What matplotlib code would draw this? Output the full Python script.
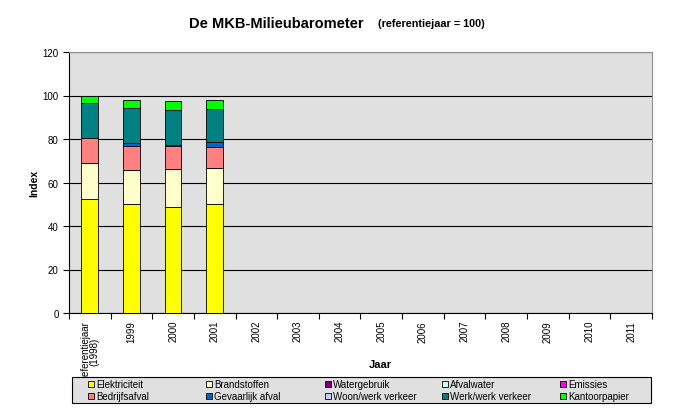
import numpy as np
import matplotlib
matplotlib.use("Agg")
import matplotlib.pyplot as plt
from matplotlib.patches import Rectangle

plt.rcParams['font.family'] = ['Liberation Sans', 'DejaVu Sans']

# categories on the x axis (only the first four have data)
jaren = ['Referentiejaar\n(1998)', '1999', '2000', '2001', '2002', '2003', '2004',
         '2005', '2006', '2007', '2008', '2009', '2010', '2011']

# series values (index, reference year = 100)
elektriciteit = [52.4, 50.0, 48.7, 50.0]
brandstoffen = [16.4, 15.7, 17.4, 16.5]
watergebruik = [0, 0, 0, 0]
afvalwater = [0, 0, 0, 0]
emissies = [0, 0, 0, 0]
bedrijfsafval = [11.5, 10.9, 10.8, 10.0]
gevaarlijk_afval = [0, 1.6, 0.2, 2.0]
woon_werk = [0, 0, 0, 0]
werk_werk = [16.1, 15.9, 16.3, 15.1]
kantoorpapier = [3.6, 3.8, 4.1, 4.2]

series = [
    ('Elektriciteit', elektriciteit, '#FFFF00'),
    ('Brandstoffen', brandstoffen, '#FFFFCC'),
    ('Watergebruik', watergebruik, '#800080'),
    ('Afvalwater', afvalwater, '#CCFFFF'),
    ('Emissies', emissies, '#FF00FF'),
    ('Bedrijfsafval', bedrijfsafval, '#FF8080'),
    ('Gevaarlijk afval', gevaarlijk_afval, '#0066CC'),
    ('Woon/werk verkeer', woon_werk, '#CCCCFF'),
    ('Werk/werk verkeer', werk_werk, '#008080'),
    ('Kantoorpapier', kantoorpapier, '#00FF00'),
]

W, H = 674, 410
fig = plt.figure(figsize=(W / 100, H / 100), dpi=100)
ax = fig.add_axes([69 / W, 1 - 314 / H, (652 - 69) / W, (314 - 53) / H])
ax.set_facecolor('#E0E0E0')

x = np.arange(len(elektriciteit))
bottom = np.zeros(len(x))
for naam, vals, kleur in series:
    vals = np.array(vals, dtype=float)
    ax.bar(x, vals, width=0.4, bottom=bottom, color=kleur,
           edgecolor='black', linewidth=0.6 if vals.sum() > 0 else 0, zorder=3)
    bottom += vals

ax.set_xlim(-0.5, len(jaren) - 0.5)
ax.set_ylim(0, 120)
ax.set_yticks(np.arange(0, 121, 20))
ax.yaxis.grid(True, color='black', linewidth=0.8, zorder=1)
ax.set_axisbelow(True)

ax.set_xticks(np.arange(len(jaren)))
ax.set_xticklabels(jaren, rotation=90, fontsize=7, linespacing=1.0)
ax.set_xticks(np.arange(len(jaren) + 1) - 0.5, minor=True)
ax.tick_params(axis='x', which='major', length=0, pad=5)
ax.tick_params(axis='x', which='minor', length=4, direction='out', width=0.8)
ax.tick_params(axis='y', length=4, direction='out', labelsize=7, width=0.8)

for s in ['top', 'right']:
    ax.spines[s].set_color('#909090')
for s in ['left', 'bottom']:
    ax.spines[s].set_color('black')

ax.set_ylabel('Index', fontsize=7.5, fontweight='bold', labelpad=2)
fig.text(380 / W, 1 - 365 / H, 'Jaar', fontsize=8, fontweight='bold',
         ha='center', va='center')

fig.text(276 / W, 1 - 24 / H, 'De MKB-Milieubarometer', fontsize=10.5,
         fontweight='bold', ha='center', va='center')
fig.text(431 / W, 1 - 24 / H, '(referentiejaar = 100)', fontsize=7.8,
         fontweight='bold', ha='center', va='center')

# legend box, filled row by row like the original
fig.patches.append(Rectangle((72 / W, 1 - 404 / H), (651 - 72) / W, 26 / H,
                             transform=fig.transFigure, facecolor='#E0E0E0',
                             edgecolor='black', linewidth=0.8))
kol_x = [88, 206, 325, 442, 560]
rij_y = [385, 397]
for i, (naam, vals, kleur) in enumerate(series):
    cx = kol_x[i % 5]
    cy = rij_y[i // 5]
    fig.patches.append(Rectangle((cx / W, 1 - (cy + 3) / H), 6 / W, 6 / H,
                                 transform=fig.transFigure, facecolor=kleur,
                                 edgecolor='black', linewidth=0.6))
    fig.text((cx + 8) / W, 1 - cy / H, naam, fontsize=7, ha='left', va='center')

fig.savefig('out.png', dpi=100)
